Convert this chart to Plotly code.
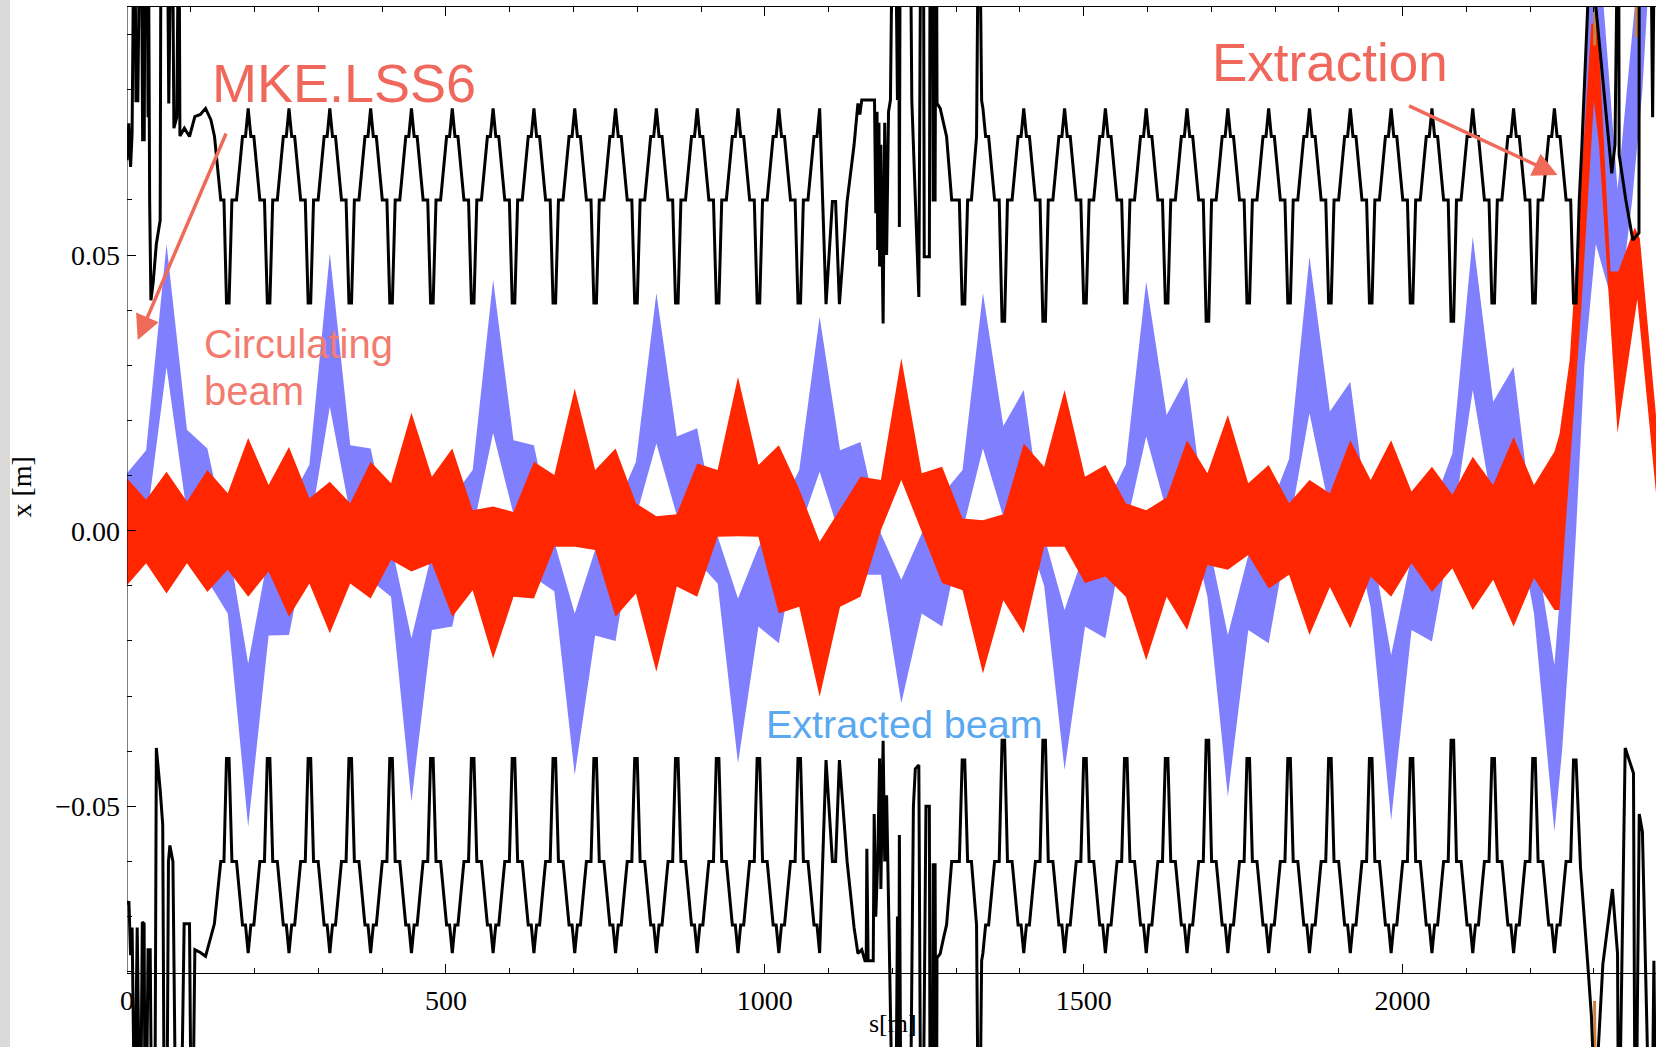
import plotly.graph_objects as go

# ---------------- data ----------------
# quadrupole positions s [m] where the beam envelopes are sampled
Q_S = [0, 30, 62, 94, 126, 158, 190, 222, 254, 286, 318, 350, 382, 414, 446, 478,
       510, 542, 574, 606, 638, 670, 702, 734, 766, 798, 830, 862, 894, 926, 958, 990,
       1022, 1054, 1086, 1118, 1150, 1182, 1214, 1246, 1278, 1310, 1342, 1374, 1406,
       1438, 1470, 1502, 1534, 1566, 1598, 1630, 1662, 1694, 1726, 1758, 1790, 1822,
       1854, 1886, 1918, 1950, 1982, 2014, 2046, 2078, 2110, 2142, 2174, 2206, 2238]

# circulating beam (red) upper / lower edge x [m]
RED_UP = [0.0095, 0.0056, 0.0107, 0.0053, 0.0110, 0.0068, 0.0168, 0.0083, 0.0152, 0.0059,
          0.0089, 0.0050, 0.0125, 0.0086, 0.0214, 0.0098, 0.0149, 0.0037, 0.0044, 0.0034,
          0.0125, 0.0101, 0.0258, 0.0110, 0.0149, 0.0050, 0.0026, 0.0030, 0.0122, 0.0110,
          0.0279, 0.0119, 0.0155, 0.0075, -0.0020, 0.0040, 0.0098, 0.0092, 0.0313, 0.0104,
          0.0116, 0.0022, 0.0019, 0.0030, 0.0158, 0.0116, 0.0255, 0.0098, 0.0119, 0.0050,
          0.0037, 0.0060, 0.0164, 0.0104, 0.0210, 0.0086, 0.0119, 0.0050, 0.0092, 0.0068,
          0.0164, 0.0092, 0.0164, 0.0071, 0.0116, 0.0065, 0.0134, 0.0083, 0.0170, 0.0083,
          0.0143]
RED_LO = [-0.0099, -0.0059, -0.0114, -0.0059, -0.0111, -0.0071, -0.0120, -0.0074, -0.0156, -0.0096,
          -0.0186, -0.0096, -0.0123, -0.0053, -0.0074, -0.0059, -0.0156, -0.0108, -0.0232, -0.0120,
          -0.0123, -0.0029, -0.0029, -0.0035, -0.0156, -0.0114, -0.0256, -0.0101, -0.0120, -0.0011,
          -0.0010, -0.0011, -0.0150, -0.0138, -0.0301, -0.0138, -0.0120, 0.0001, 0.0092, 0.0000,
          -0.0095, -0.0108, -0.0259, -0.0126, -0.0186, -0.0029, -0.0029, -0.0095, -0.0083, -0.0120,
          -0.0235, -0.0120, -0.0180, -0.0062, -0.0071, -0.0044, -0.0105, -0.0080, -0.0189, -0.0102,
          -0.0177, -0.0083, -0.0120, -0.0059, -0.0111, -0.0068, -0.0144, -0.0089, -0.0174, -0.0086,
          -0.0144]
# extraction region of the circulating beam
RED_X_S_UP = [2246, 2262, 2296, 2306, 2326, 2338, 2364, 2372, 2398]
RED_X_UP = [0.0175, 0.031, 0.092, 0.092, 0.047, 0.047, 0.055, 0.053, 0.020]
RED_X_S_LO = [2246, 2262, 2280, 2300, 2308, 2337, 2368, 2398]
RED_X_LO = [-0.0144, 0.012, 0.040, 0.078, 0.070, 0.0177, 0.042, 0.006]

# extracted beam (blue) upper / lower edge x [m]
BLUE_UP = [0.0104, 0.0146, 0.0520, 0.0183, 0.0149, -0.0020, -0.0241, -0.0040, 0.0050, 0.0120,
           0.0503, 0.0155, 0.0149, -0.0020, -0.0195, -0.0040, 0.0060, 0.0110, 0.0455, 0.0164,
           0.0155, -0.0020, -0.0150, -0.0035, 0.0040, 0.0125, 0.0431, 0.0171, 0.0186, -0.0010,
           -0.0123, -0.0030, 0.0035, 0.0110, 0.0388, 0.0146, 0.0161, -0.0005, -0.0089, -0.0005,
           0.0065, 0.0110, 0.0431, 0.0190, 0.0255, -0.0010, -0.0144, -0.0035, 0.0045, 0.0120,
           0.0452, 0.0210, 0.0279, -0.0010, -0.0189, -0.0045, 0.0035, 0.0130, 0.0497, 0.0216,
           0.0270, -0.0015, -0.0226, -0.0045, 0.0040, 0.0140, 0.0533, 0.0234, 0.0297, -0.0010,
           -0.0244]
BLUE_LO = [-0.0040, 0.0010, 0.0297, 0.0030, -0.0090, -0.0150, -0.0537, -0.0190, -0.0189, 0.0000,
           0.0225, 0.0030, -0.0090, -0.0120, -0.0491, -0.0180, -0.0174, 0.0000, 0.0177, 0.0030,
           -0.0085, -0.0110, -0.0443, -0.0190, -0.0200, 0.0025, 0.0158, 0.0028, -0.0055, -0.0096,
           -0.0422, -0.0174, -0.0204, 0.0000, 0.0107, -0.0010, -0.0080, -0.0080, -0.0313, -0.0150,
           -0.0174, 0.0000, 0.0149, 0.0025, 0.0015, -0.0100, -0.0434, -0.0174, -0.0195, 0.0005,
           0.0171, 0.0035, 0.0040, -0.0120, -0.0482, -0.0180, -0.0204, 0.0005, 0.0213, 0.0035,
           0.0030, -0.0140, -0.0525, -0.0180, -0.0201, 0.0005, 0.0255, 0.0035, 0.0055, -0.0150,
           -0.0546]
BLUE_X_S_UP = [2248, 2260, 2275, 2290, 2312, 2337, 2368, 2386]
BLUE_X_UP = [-0.010, 0.012, 0.045, 0.100, 0.100, 0.062, 0.100, 0.100]
BLUE_X_S_LO = [2250, 2262, 2272, 2285, 2303, 2337, 2360, 2376, 2386]
BLUE_X_LO = [-0.040, -0.020, 0.000, 0.030, 0.052, 0.038, 0.060, 0.080, 0.100]

# aperture (black): regular arc cell profile, read from one cell
CELL_OFFSETS = [-30, -25.5, -18.3, -8.9, -4.2, 0, 4.2, 8.9, 18.3, 25.5, 30]
CELL_LEVELS = ['V', 'M', 'M', 'S', 'S', 'A', 'S', 'S', 'M', 'M', 'V']
APER_LEVEL = {'A': 0.0766, 'S': 0.0715, 'M': 0.0600, 'V': 0.0413}
APER_V_DEEP = 0.0380
DEEP_V_S = [1374, 1438, 1694, 2078]
ARC1_APEX = [190, 254, 318, 382, 446, 510, 574, 638, 702, 766, 830, 894, 958, 1022, 1086]
ARC2_APEX = [1342, 1406, 1470, 1534, 1598, 1662, 1726, 1790, 1854, 1918, 1982, 2046,
             2110, 2174, 2238]

# irregular aperture pieces (straight sections), (s, x)
UP_LEFT = [(0, 0.0672), (2.8, 0.0739), (5.6, 0.0660), (8, 0.0720), (10, 0.100), (13, 0.100),
           (14, 0.0780), (17, 0.0780), (19, 0.100), (23, 0.100), (24.5, 0.0709), (27, 0.0709),
           (28, 0.100), (32, 0.100), (33, 0.0750), (34, 0.100), (35.5, 0.0600), (37.5, 0.0418),
           (41, 0.0450), (46, 0.0520), (52, 0.0563), (53, 0.100), (64, 0.100), (65.5, 0.0775),
           (68, 0.100), (72, 0.100), (73.5, 0.0730), (78, 0.0750), (80, 0.100), (82, 0.100),
           (83, 0.0716), (90, 0.0730), (98, 0.0715), (106.4, 0.0751), (115, 0.0755),
           (123.2, 0.0766), (131.6, 0.0745), (137.2, 0.0715), (147, 0.0600), (152, 0.0600),
           (156, 0.0413)]
LO_LEFT = [(0, -0.0678), (3, -0.0672), (5.6, -0.0770), (8, -0.0720), (11, -0.100), (13, -0.100),
           (16, -0.0720), (19, -0.100), (22, -0.100), (24, -0.0710), (26.8, -0.0713), (28, -0.100),
           (31, -0.100), (33, -0.0760), (36.4, -0.0760), (38, -0.100), (44, -0.100), (46, -0.0394),
           (52, -0.0470), (56, -0.0533), (58, -0.100), (63, -0.100), (65, -0.0600), (67.2, -0.0571),
           (72, -0.0600), (75.6, -0.100), (86, -0.100), (89.6, -0.0713), (98, -0.0713), (100, -0.100),
           (104, -0.100), (106.4, -0.0760), (115, -0.0765), (123.2, -0.0772), (137, -0.0713),
           (147, -0.0600), (152, -0.0600), (156, -0.0413)]
UP_MID = [(1096, 0.0411), (1106, 0.0597), (1111, 0.0597), (1117, 0.0411), (1129, 0.0597),
          (1140, 0.0700), (1146, 0.0775), (1149, 0.0755), (1152, 0.0781), (1172, 0.0781),
          (1174, 0.0576), (1176, 0.0760), (1177, 0.0509), (1179, 0.0740), (1180, 0.0479),
          (1182, 0.0700), (1185.5, 0.0376), (1188, 0.0740), (1191, 0.0500), (1194, 0.0760),
          (1197, 0.0781), (1199, 0.100), (1206, 0.100), (1208, 0.0781), (1209, 0.100),
          (1210, 0.100), (1211, 0.0551), (1212, 0.100), (1229, 0.100), (1230.5, 0.0781),
          (1241.5, 0.0424), (1244, 0.100), (1249, 0.100), (1250, 0.0497), (1258, 0.0497),
          (1259, 0.100), (1263, 0.100), (1264, 0.0600), (1267, 0.0600), (1268, 0.100),
          (1269.5, 0.100), (1270, 0.0775), (1275, 0.0766), (1280, 0.0740), (1285, 0.0715),
          (1293, 0.0600), (1305, 0.0600), (1309.5, 0.0411), (1313.5, 0.0411), (1318, 0.0600),
          (1324, 0.0600), (1332, 0.0715), (1334, 0.100), (1338, 0.100), (1340, 0.0780)]
LO_MID = [(1096, -0.0416), (1106, -0.0600), (1111, -0.0600), (1117, -0.0416), (1129, -0.0600),
          (1140, -0.0720), (1146, -0.0767), (1152, -0.0760), (1157, -0.0780), (1159, -0.0780),
          (1160, -0.0577), (1162, -0.0780), (1170, -0.0780), (1171.5, -0.0514), (1174, -0.0700),
          (1177, -0.0600), (1180, -0.0413), (1182, -0.0650), (1185.5, -0.0381), (1188, -0.0600),
          (1191, -0.0480), (1195, -0.0700), (1199, -0.100), (1206, -0.100), (1208, -0.0700),
          (1209, -0.100), (1210, -0.100), (1211, -0.0552), (1213, -0.100), (1229, -0.100),
          (1233, -0.0500), (1236, -0.0432), (1241.5, -0.0425), (1244, -0.100), (1249, -0.100),
          (1252.7, -0.0500), (1258, -0.0500), (1259, -0.100), (1263, -0.100), (1264, -0.0606),
          (1267, -0.0606), (1268, -0.100), (1269.5, -0.100), (1270, -0.0775), (1275, -0.0767),
          (1280, -0.0740), (1285, -0.0715), (1293, -0.0600), (1305, -0.0600), (1309.5, -0.0416),
          (1313.5, -0.0416), (1318, -0.0600), (1324, -0.0600), (1332, -0.0715), (1334, -0.100),
          (1338, -0.100), (1340, -0.0780)]
UP_RIGHT = [(2242.2, 0.0715), (2246.9, 0.0715), (2256.3, 0.0600), (2263.5, 0.0600), (2268, 0.0413),
            (2272, 0.0413), (2277, 0.0600), (2281, 0.0695), (2287, 0.0872), (2292, 0.100),
            (2300, 0.100), (2303, 0.0950), (2328, 0.0648), (2333, 0.0700), (2336, 0.100),
            (2339, 0.100), (2339.5, 0.0682), (2350, 0.0600), (2361, 0.0527), (2370.6, 0.0540),
            (2371, 0.100), (2373, 0.100), (2390, 0.100), (2392, 0.0750), (2394, 0.100)]
LO_RIGHT = [(2242.2, -0.0715), (2246.9, -0.0715), (2256.3, -0.0600), (2263.5, -0.0600),
            (2268, -0.0416), (2272, -0.0416), (2279, -0.0612), (2290, -0.0781), (2296, -0.0880),
            (2300, -0.100), (2304, -0.100), (2314, -0.0786), (2329, -0.0650), (2337, -0.0767),
            (2338, -0.100), (2341, -0.100), (2349, -0.0394), (2362, -0.0440), (2364, -0.100),
            (2367, -0.100), (2371, -0.0514), (2376, -0.0546), (2385, -0.100), (2392, -0.100),
            (2394, -0.0780), (2396, -0.100)]
# extraction-channel aperture pieces (orange)
ORANGE_SEGS = [[(2301, 0.088), (2302, 0.100)], [(2367, 0.0895), (2367, 0.100)],
               [(2301, -0.0853), (2302, -0.100)], [(2367, -0.0842), (2367, -0.100)]]

X_TICKS = [0, 500, 1000, 1500, 2000]
X_TICK_TEXT = ['0', '500', '1000', '1500', '2000']
X_MINOR = [100, 200, 300, 400, 600, 700, 800, 900, 1100, 1200, 1300, 1400, 1600, 1700,
           1800, 1900, 2100, 2200, 2300]
Y_TICKS = [-0.05, 0.0, 0.05]
Y_TICK_TEXT = ['\u22120.05', '0.00', '0.05']
Y_MINOR = [-0.08, -0.07, -0.06, -0.04, -0.03, -0.02, -0.01, 0.01, 0.02, 0.03, 0.04,
           0.06, 0.07, 0.08, 0.09]

S_RANGE = [0, 2397.3]
X_RANGE = [-0.09365, 0.09499]
X_AXIS_AT = -0.0802

RED = '#ff2600'
BLUE = '#8080ff'
SALMON = '#f0685c'


# ---------------- building helpers ----------------
def arc_points(apexes, sign, s_min, s_max):
    pts = []
    for a in apexes:
        for off, lv in zip(CELL_OFFSETS, CELL_LEVELS):
            s = a + off
            if s < s_min or s > s_max:
                continue
            val = APER_LEVEL[lv]
            if lv == 'V':
                d = a + 32 if off > 0 else a - 32
                if any(abs(d - q) < 4 for q in DEEP_V_S):
                    val = APER_V_DEEP
            pts.append((s, sign * val))
    return pts


def band(s, up, lo, s_up2, up2, s_lo2, lo2):
    top = list(zip(s, up)) + list(zip(s_up2, up2))
    bot = list(zip(s, lo)) + list(zip(s_lo2, lo2))
    poly = top + bot[::-1]
    return [p[0] for p in poly], [p[1] for p in poly]


upper = UP_LEFT + arc_points(ARC1_APEX, 1, 158, 1086) + UP_MID + \
    arc_points(ARC2_APEX, 1, 1342, 2238) + UP_RIGHT
lower = LO_LEFT + arc_points(ARC1_APEX, -1, 158, 1086) + LO_MID + \
    arc_points(ARC2_APEX, -1, 1342, 2238) + LO_RIGHT

fig = go.Figure()

bx, by = band(Q_S, BLUE_UP, BLUE_LO, BLUE_X_S_UP, BLUE_X_UP, BLUE_X_S_LO, BLUE_X_LO)
fig.add_trace(go.Scatter(x=bx, y=by, mode='lines', fill='toself', fillcolor=BLUE,
                         line=dict(width=0, color=BLUE), hoverinfo='skip', showlegend=False))
rx, ry = band(Q_S, RED_UP, RED_LO, RED_X_S_UP, RED_X_UP, RED_X_S_LO, RED_X_LO)
fig.add_trace(go.Scatter(x=rx, y=ry, mode='lines', fill='toself', fillcolor=RED,
                         line=dict(width=0, color=RED), hoverinfo='skip', showlegend=False))

for seg in ORANGE_SEGS:
    fig.add_trace(go.Scatter(x=[p[0] for p in seg], y=[p[1] for p in seg], mode='lines',
                             line=dict(color='#cc8040', width=3), hoverinfo='skip',
                             showlegend=False))

for pts in (upper, lower):
    fig.add_trace(go.Scatter(x=[p[0] for p in pts], y=[p[1] for p in pts], mode='lines',
                             line=dict(color='black', width=3), hoverinfo='skip',
                             showlegend=False))

# dummy trace so that the top frame axis is drawn
fig.add_trace(go.Scatter(x=[S_RANGE[0]], y=[0], xaxis='x2', mode='markers',
                         marker=dict(opacity=0), hoverinfo='skip', showlegend=False))

tickfont = dict(family='Liberation Serif', size=28, color='black')
fig.update_layout(
    width=1656, height=1047,
    margin=dict(l=127, r=0, t=7, b=0, pad=0),
    paper_bgcolor='white', plot_bgcolor='white', showlegend=False,
    xaxis=dict(range=S_RANGE, anchor='free', position=0.0714, showline=True,
               linecolor='black', linewidth=1, ticks='inside', ticklen=9, tickwidth=1,
               tickcolor='black', tickmode='array', tickvals=X_TICKS, ticktext=X_TICK_TEXT,
               tickfont=tickfont, ticklabelstandoff=3, showgrid=False, zeroline=False,
               minor=dict(tickmode='array', tickvals=X_MINOR, ticks='inside', ticklen=5,
                          tickcolor='black', tickwidth=1, showgrid=False)),
    xaxis2=dict(range=S_RANGE, overlaying='x', side='top', anchor='y', showline=True,
                linecolor='black', linewidth=1, ticks='inside', ticklen=9, tickwidth=1,
                tickcolor='black', tickmode='array', tickvals=X_TICKS, showticklabels=False,
                showgrid=False, zeroline=False,
                minor=dict(tickmode='array', tickvals=X_MINOR, ticks='inside', ticklen=5,
                           tickcolor='black', tickwidth=1, showgrid=False)),
    yaxis=dict(range=X_RANGE, showline=False, ticks='inside', ticklen=9, tickwidth=1,
               tickcolor='black', tickmode='array', tickvals=Y_TICKS, ticktext=Y_TICK_TEXT,
               tickfont=tickfont, ticklabelstandoff=6, showgrid=False, zeroline=False,
               minor=dict(tickmode='array', tickvals=Y_MINOR, ticks='inside', ticklen=5,
                          tickcolor='black', tickwidth=1, showgrid=False)),
)

# y axis line from the x axis up to the frame
fig.add_shape(type='line', xref='x', yref='y', x0=0, x1=0, y0=X_AXIS_AT, y1=X_RANGE[1],
              line=dict(color='black', width=1))
# grey strip at the left border of the picture
fig.add_shape(type='rect', xref='paper', yref='paper', x0=-0.0831, x1=-0.0765, y0=0, y1=1.007,
              line=dict(width=0), fillcolor='#dadada', layer='below')

ann_font = 'Liberation Sans'
fig.add_annotation(x=340.5, y=0.0812, xref='x', yref='y', text='MKE.LSS6', showarrow=False,
                   font=dict(family=ann_font, size=54, color=SALMON), xanchor='center',
                   yanchor='middle')
fig.add_annotation(x=1886, y=0.0850, xref='x', yref='y', text='Extraction', showarrow=False,
                   font=dict(family=ann_font, size=53, color=SALMON), xanchor='center',
                   yanchor='middle')
fig.add_annotation(x=117, y=0.0338, xref='x', yref='y', text='Circulating', showarrow=False,
                   font=dict(family=ann_font, size=40, color='#f27c70'), xanchor='left',
                   yanchor='middle')
fig.add_annotation(x=117, y=0.0253, xref='x', yref='y', text='beam', showarrow=False,
                   font=dict(family=ann_font, size=40, color='#f27c70'), xanchor='left',
                   yanchor='middle')
fig.add_annotation(x=1219, y=-0.0350, xref='x', yref='y', text='Extracted beam', showarrow=False,
                   font=dict(family=ann_font, size=39.5, color='#5aa8ef'), xanchor='center',
                   yanchor='middle')
fig.add_annotation(x=1201, y=-0.0893, xref='x', yref='y', text='s[m]', showarrow=False,
                   font=dict(family='Liberation Serif', size=26, color='black'),
                   xanchor='center', yanchor='middle', borderpad=0)
fig.add_annotation(x=-0.0693, y=0.538, xref='paper', yref='paper', text='x [m]',
                   showarrow=False, textangle=-90,
                   font=dict(family='Liberation Serif', size=28, color='black'),
                   xanchor='center', yanchor='middle')

# arrows
fig.add_annotation(x=16.8, y=0.0346, xref='x', yref='y', ax=89, ay=-208, text='',
                   showarrow=True, arrowhead=2, arrowsize=1.4, arrowwidth=3.5,
                   arrowcolor='#f06a5a', standoff=0, startstandoff=0)
fig.add_annotation(x=2243, y=0.0645, xref='x', yref='y', ax=-150, ay=-70, text='',
                   showarrow=True, arrowhead=2, arrowsize=1.4, arrowwidth=3.5,
                   arrowcolor='#f06a5a', standoff=0, startstandoff=0)

fig.write_html("out.html", config={'displayModeBar': False},
               post_script="document.body.style.margin='0px';document.body.style.overflow='hidden';")
